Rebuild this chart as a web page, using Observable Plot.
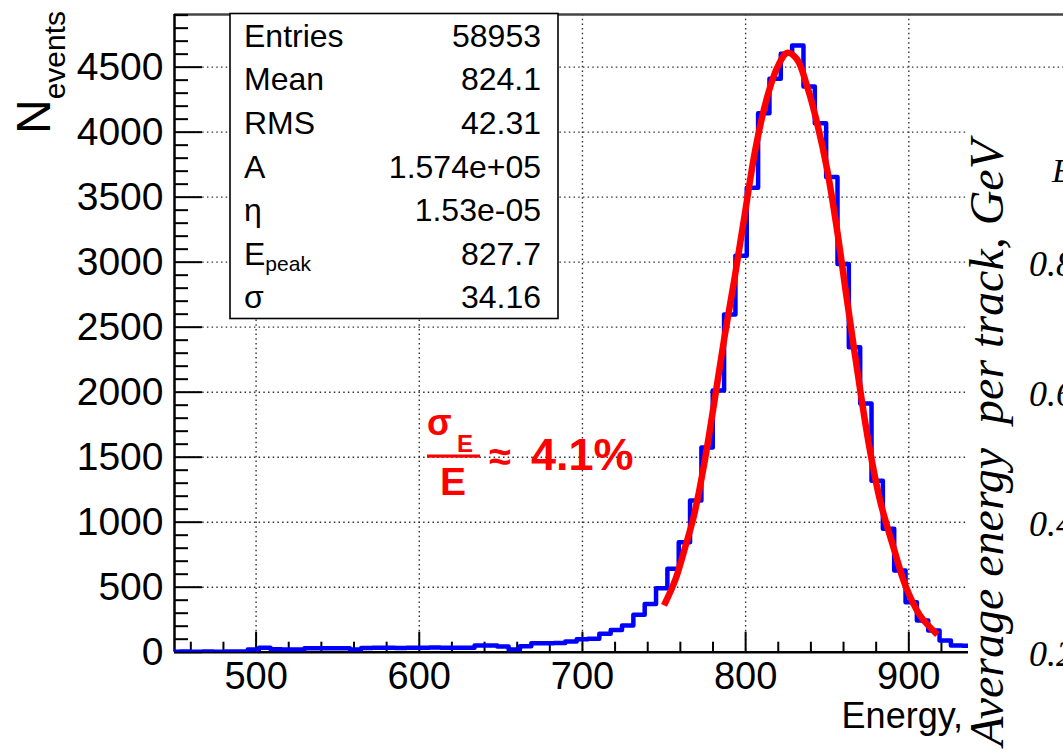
<!DOCTYPE html>
<html><head><meta charset="utf-8">
<script src="https://cdn.jsdelivr.net/npm/d3@7"></script>
<script src="https://cdn.jsdelivr.net/npm/@observablehq/plot@0.6"></script>
<style>
html,body{margin:0;padding:0;background:#fff;}
#chart{position:relative;width:1063px;height:756px;overflow:hidden;}
</style></head><body><div id="chart"></div>
<script>
// ---- data ----
const binStart = 446.25;   // left edge of first bin (energy)
const binWidth = 6.95;     // bin width (energy)
const counts = [
  4,5,3,6,4,5,5,20,34,22,21,20,31,30,31,30,21,
  33,35,34,33,35,34,36,34,35,34,52,52,44,21,45,
  69,68,70,82,100,104,141,170,205,288,370,492,641,846,
  1167,1575,2013,2597,3050,3572,4146,4411,4603,4667,
  4352,4069,3656,2985,2346,1913,1318,949,628,385,244,167,90,
  52,50,48,40,35
];
const fitEnergy = [750,757,763,768.5,774.5,780.5,787,793,799,806,813,819.5,825.5,831.5,837.5,844,850,856,862,868.5,875.5,882.5,891,898,907,917.5];
const fitValue  = [360,560,810,1060,1440,1900,2420,2860,3330,3870,4260,4500,4610,4560,4360,4060,3710,3250,2720,2160,1600,1160,790,510,280,135];
const xDomain = [450, 994.8];
const yDomain = [0, 4905];
const xTicks = [500,600,700,800,900];
const xMinorTicks = [460,480,520,540,560,580,620,640,660,680,720,740,760,780,820,840,860,880,920,940,960,980];
const yTicks = [0,500,1000,1500,2000,2500,3000,3500,4000,4500];
const yMinorTicks = [100,200,300,400,600,700,800,900,1100,1200,1300,1400,1600,1700,1800,1900,2100,2200,2300,2400,2600,2700,2800,2900,3100,3200,3300,3400,3600,3700,3800,3900,4100,4200,4300,4400,4600,4700,4800,4900];
const statsLabels = ["Entries","Mean","RMS","A","η","E","σ"];
const statsValues = ["58953","824.1","42.31","1.574e+05","1.53e-05","827.7","34.16"];
const rightTickLabels = ["0.8","0.6","0.4","0.2"];

// ---- build tables ----
const hist = counts.map((c,i)=>({x: binStart + i*binWidth, y: c}));
hist.push({x: binStart + counts.length*binWidth, y: counts[counts.length-1]});
const fit = fitEnergy.map((e,i)=>({x: e, y: fitValue[i]}));

const gridStyle = {stroke:"#333", strokeOpacity:1, strokeWidth:1.4, strokeDasharray:"1.5,3.2"};
const font = "'Liberation Sans', Arial, Helvetica, sans-serif";

const plot = Plot.plot({
  width: 1063, height: 756,
  marginLeft: 174, marginRight: 0, marginTop: 14, marginBottom: 104.3,
  x: {domain: xDomain, axis: null},
  y: {domain: yDomain, axis: null},
  style: {fontFamily: font, background: "white", overflow: "visible"},
  marks: [
    Plot.gridX(xTicks, gridStyle),
    Plot.gridY(yTicks.filter(d=>d>0), gridStyle),
    Plot.ruleY([yDomain[1]], {stroke:"#444", strokeWidth:2.5}),
    Plot.ruleX([xDomain[0]], {stroke:"#000", strokeWidth:2.5}),
    Plot.ruleY([yDomain[0]], {stroke:"#000", strokeWidth:2.5}),
    Plot.axisY(yTicks, {tickSize:-28, tickPadding:39, fontSize:39, tickFormat:d3.format("d"), label:null, strokeWidth:2, stroke:"#000"}),
    Plot.axisY(yMinorTicks, {tickSize:-14, tickFormat:()=>"", label:null, strokeWidth:2, stroke:"#000"}),
    Plot.axisX(xTicks, {tickSize:-20, tickPadding:30, fontSize:38, tickFormat:d3.format("d"), label:null, strokeWidth:2, stroke:"#000"}),
    Plot.axisX(xMinorTicks, {tickSize:-10, tickFormat:()=>"", label:null, strokeWidth:2, stroke:"#000"}),
    Plot.line(hist, {x:"x", y:"y", curve:"step-after", stroke:"#0000ff", strokeWidth:4.5, clip:true}),
    Plot.line(fit, {x:"x", y:"y", curve:"catmull-rom", stroke:"#ff0000", strokeWidth:6.5, strokeLinecap:"butt"})
  ]
});
document.getElementById("chart").appendChild(plot);

const svg = d3.select(plot);

// stats box
const sb = svg.append("g").attr("font-family", font).attr("font-size", 32).attr("fill","#000").attr("text-anchor","start");
sb.append("rect").attr("x",230).attr("y",13.5).attr("width",328).attr("height",305)
  .attr("fill","#fff").attr("stroke","#000").attr("stroke-width",1.6);
statsLabels.forEach((lab,i)=>{
  const y = 46.7 + 43.6*i;
  const t = sb.append("text").attr("x",244).attr("y",y).attr("text-anchor","start");
  t.append("tspan").text(lab);
  if (lab === "E") t.append("tspan").attr("font-size",21).attr("dy",6).text("peak");
  sb.append("text").attr("x",541).attr("y",y).attr("text-anchor","end").text(statsValues[i]);
});

// y-axis title
const yt = svg.append("text").attr("font-family", font).attr("text-anchor","start").attr("transform","translate(50,134) rotate(-90)");
yt.append("tspan").attr("font-size",48).text("N");
yt.append("tspan").attr("font-size",30).attr("dy",15).text("events");

// x-axis title
svg.append("text").attr("font-family", font).attr("font-size",36).attr("x",963).attr("y",728)
  .attr("text-anchor","end").text("Energy,");

// resolution annotation
const an = svg.append("g").attr("font-family", font).attr("fill","#ff0000").attr("font-weight","bold").attr("text-anchor","start");
an.append("text").attr("x",427).attr("y",435).attr("font-size",36).text("σ");
an.append("text").attr("x",457).attr("y",452).attr("font-size",24).text("E");
an.append("rect").attr("x",427).attr("y",454.5).attr("width",53).attr("height",3.2);
an.append("text").attr("x",453).attr("y",495).attr("font-size",39).attr("text-anchor","middle").text("E");
an.append("text").attr("x",489).attr("y",470).attr("font-size",40).text("≈");
an.append("text").attr("x",531).attr("y",470).attr("font-size",45).text("4.1%");

// overlapping neighbouring chart on the right
const ov = svg.append("g").attr("font-family","'Liberation Serif','Times New Roman',serif").attr("font-style","italic").attr("text-anchor","start");
ov.append("rect").attr("x",968).attr("y",95).attr("width",100).attr("height",670).attr("fill","#fff");
ov.append("text").attr("transform","translate(1003,140) rotate(-90)").attr("text-anchor","end")
  .attr("font-size",48).text("Average energy\u00a0 per track, GeV");
ov.append("text").attr("x",1052).attr("y",182).attr("font-size",34).text("E");
rightTickLabels.forEach((lab,i)=>{
  ov.append("text").attr("x",1029).attr("y",263 + 130*i).attr("dy","0.35em").attr("font-size",36).text(lab);
});
</script></body></html>
